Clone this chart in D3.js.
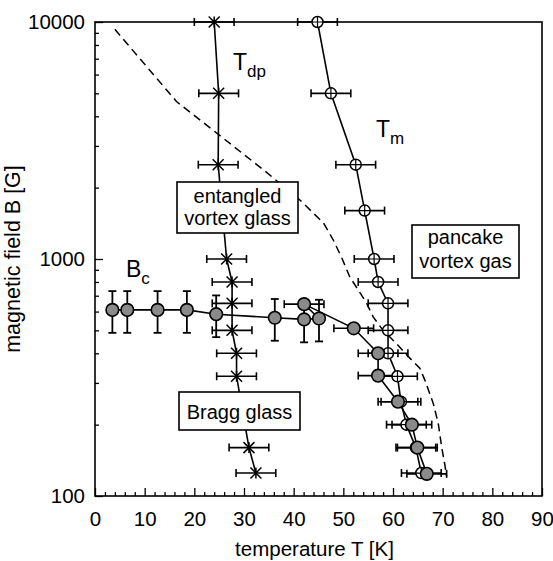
<!DOCTYPE html>
<html><head><meta charset="utf-8">
<script src="https://cdn.jsdelivr.net/npm/d3@7"></script>
<style>
body{margin:0;background:#fff}
svg{display:block;font-family:"Liberation Sans",Arial,Helvetica,sans-serif}
</style>
</head><body>
<svg id="chart" width="553" height="561"></svg>
<script>
// Depinning line T_dp (asterisks, horizontal error bars)
const tdpT    = [24.0, 24.9, 24.8, 26.5, 27.6, 27.6, 27.6, 28.5, 28.5, 31.0, 32.4];
const tdpB    = [10000, 5000, 2500, 1000, 800, 650, 500, 400, 320, 160, 125];
const tdpErrT = [4, 4, 4, 4, 4, 4, 4, 4, 4, 4, 4];

// Melting line T_m (open circles, horizontal error bars)
const tmT    = [44.8, 47.5, 52.5, 54.3, 56.2, 57.0, 59.0, 59.0, 59.0, 60.9, 61.6, 62.7, 64.6, 65.7];
const tmB    = [10000, 5000, 2500, 1600, 1000, 800, 650, 500, 400, 320, 250, 200, 160, 125];
const tmErrT = [4, 4, 4, 4, 4, 4, 4, 4, 4, 4, 4, 4, 4, 4];

// Order-disorder field B_c (filled circles)
const bcT    = [3.5, 6.5, 12.6, 18.5, 24.4, 36.2, 42.1, 45.1, 42.1, 52.1, 57.0, 57.0, 61.0, 63.8, 64.9, 66.8];
const bcB    = [610, 610, 610, 610, 585, 565, 556, 561, 645, 510, 400, 322, 250, 200, 160, 124];
const bcErrB = [122, 122, 122, 122, 117, 113, 111, 112, 0, 0, 0, 0, 0, 0, 0, 0];
const bcErrT = [0, 0, 0, 0, 0, 0, 0, 0, 4, 4, 4, 4, 4, 4, 4, 4];

// Dashed boundary
const dashT = [4.0, 16.4, 33.9, 41.3, 46.0, 48.0, 49.7, 51.3, 53.0, 54.7, 56.0, 58.0, 60.7, 62.8, 65.4, 66.4, 68.1, 69.1, 69.8, 70.5, 70.8];
const dashB = [9310, 4620, 2380, 1770, 1420, 1200, 1010, 840, 740, 650, 570, 500, 440, 393, 346, 309, 246, 203, 161, 133, 121];

// Axis ticks
const xTickLabels = [0, 10, 20, 30, 40, 50, 60, 70, 80, 90];
const yTickLabels = [100, 1000, 10000];

const svg = d3.select("#chart");
const m = {left: 95, right: 11, top: 22, bottom: 65};
const W = 553, H = 561;
const x = d3.scaleLinear().domain([0, 90]).range([m.left, W - m.right]);
const y = d3.scaleLog().domain([100, 10000]).range([H - m.bottom, m.top]);
const x0 = x.range()[0], x1 = x.range()[1], y0 = y.range()[0], y1 = y.range()[1];

const zip = (a, b) => a.map((v, i) => [v, b[i]]);
const line = d3.line().x(d => x(d[0])).y(d => y(d[1]));
const fs = 20.5;

// Axes: minor ticks, then major ticks with labels (ticks point inward)
const xMinor = d3.range(0, 91, 2).filter(v => v % 10 !== 0);
svg.append("g").attr("transform", `translate(0,${y0})`)
  .call(d3.axisBottom(x).tickValues(xMinor).tickSize(-4).tickFormat(""))
  .call(g => g.select(".domain").remove());
svg.append("g").attr("transform", `translate(0,${y0})`)
  .call(d3.axisBottom(x).tickValues(xTickLabels).tickSize(-8).tickPadding(15).tickFormat(d3.format("d")))
  .call(g => g.select(".domain").remove())
  .call(g => g.selectAll("text").attr("font-size", fs).attr("fill", "#000").attr("font-family", null));

const yMinor = y.ticks().filter(v => !yTickLabels.includes(v));
svg.append("g").attr("transform", `translate(${x0},0)`)
  .call(d3.axisLeft(y).tickValues(yMinor).tickSize(-4).tickFormat(""))
  .call(g => g.select(".domain").remove());
svg.append("g").attr("transform", `translate(${x0},0)`)
  .call(d3.axisLeft(y).tickValues(yTickLabels).tickSize(-8).tickPadding(10).tickFormat(d3.format("d")))
  .call(g => g.select(".domain").remove())
  .call(g => g.selectAll("text").attr("font-size", fs).attr("fill", "#000").attr("font-family", null));
svg.selectAll(".tick line").attr("stroke", "#000").attr("stroke-width", 1.3);

// Frame
svg.append("rect").attr("x", x0).attr("y", y1).attr("width", x1 - x0).attr("height", y0 - y1)
  .attr("fill", "none").attr("stroke", "#000").attr("stroke-width", 1.6);

// Axis titles
svg.append("text").attr("x", (x0 + x1) / 2 - 4).attr("y", 556).attr("text-anchor", "middle")
  .attr("font-size", fs).text("temperature T [K]");
svg.append("text").attr("transform", `translate(20,${(y0 + y1) / 2}) rotate(-90)`)
  .attr("text-anchor", "middle").attr("font-size", 21.5).text("magnetic field B [G]");

// Dashed boundary
svg.append("path").datum(zip(dashT, dashB)).attr("d", line)
  .attr("fill", "none").attr("stroke", "#000").attr("stroke-width", 1.5).attr("stroke-dasharray", "8,5");

// Connecting lines
[[tdpT, tdpB], [tmT, tmB], [bcT, bcB]].forEach(([t, b]) => {
  svg.append("path").datum(zip(t, b)).attr("d", line)
    .attr("fill", "none").attr("stroke", "#000").attr("stroke-width", 1.6);
});

// Error bars
const cap = 4;
function hErr(t, b, e) {
  const g = svg.append("g").attr("stroke", "#000").attr("stroke-width", 1.6);
  t.forEach((v, i) => {
    if (!e[i]) return;
    const yy = y(b[i]), xa = x(v - e[i]), xb = x(v + e[i]);
    g.append("line").attr("x1", xa).attr("x2", xb).attr("y1", yy).attr("y2", yy);
    g.append("line").attr("x1", xa).attr("x2", xa).attr("y1", yy - cap).attr("y2", yy + cap);
    g.append("line").attr("x1", xb).attr("x2", xb).attr("y1", yy - cap).attr("y2", yy + cap);
  });
}
function vErr(t, b, e) {
  const g = svg.append("g").attr("stroke", "#000").attr("stroke-width", 1.8);
  t.forEach((v, i) => {
    if (!e[i]) return;
    const xx = x(v), ya = y(b[i] - e[i]), yb = y(b[i] + e[i]);
    g.append("line").attr("x1", xx).attr("x2", xx).attr("y1", ya).attr("y2", yb);
    g.append("line").attr("x1", xx - cap).attr("x2", xx + cap).attr("y1", ya).attr("y2", ya);
    g.append("line").attr("x1", xx - cap).attr("x2", xx + cap).attr("y1", yb).attr("y2", yb);
  });
}
hErr(tdpT, tdpB, tdpErrT);
hErr(tmT, tmB, tmErrT);
hErr(bcT, bcB, bcErrT);
vErr(bcT, bcB, bcErrB);

// Markers: T_dp asterisks
const s = 5.5;
svg.append("g").selectAll("path").data(zip(tdpT, tdpB)).join("path")
  .attr("d", d => { const cx = x(d[0]), cy = y(d[1]);
    return `M${cx - s},${cy - s}L${cx + s},${cy + s}M${cx - s},${cy + s}L${cx + s},${cy - s}M${cx},${cy - s}L${cx},${cy + s}`; })
  .attr("stroke", "#000").attr("stroke-width", 1.5).attr("fill", "none");

// T_m open circles with crosshair
const tmG = svg.append("g").selectAll("g").data(zip(tmT, tmB)).join("g")
  .attr("transform", d => `translate(${x(d[0])},${y(d[1])})`);
tmG.append("circle").attr("r", 5.5).attr("fill", "#fff").attr("stroke", "#000").attr("stroke-width", 1.5);
tmG.append("path").attr("d", "M-5.5,0H5.5M0,-5.5V5.5").attr("stroke", "#000").attr("stroke-width", 1.2);

// B_c filled circles
svg.append("g").selectAll("circle").data(zip(bcT, bcB)).join("circle")
  .attr("cx", d => x(d[0])).attr("cy", d => y(d[1])).attr("r", 6.3)
  .attr("fill", "#8a8a8a").attr("stroke", "#000").attr("stroke-width", 1.6);

// Region labels in boxes
function box(x, y, w, h, lines, base, lh) {
  svg.append("rect").attr("x", x).attr("y", y).attr("width", w).attr("height", h)
    .attr("fill", "#fff").attr("stroke", "#000").attr("stroke-width", 1.6);
  lines.forEach((t, i) => svg.append("text").attr("x", x + w / 2).attr("y", base + i * lh)
    .attr("text-anchor", "middle").attr("font-size", 20).text(t));
}
box(177, 182, 121, 51, ["entangled", "vortex glass"], 203, 22);
box(412, 225, 107, 53, ["pancake", "vortex gas"], 244, 24);
box(179, 392, 121, 38, ["Bragg glass"], 419, 0);

// Curve labels with subscripts
function subLabel(px, py, main, sub) {
  const t = svg.append("text").attr("x", px).attr("y", py).attr("font-size", 23);
  t.append("tspan").text(main);
  t.append("tspan").attr("font-size", 17).attr("dy", 7).text(sub);
}
subLabel(233, 70, "T", "dp");
subLabel(376, 137, "T", "m");
subLabel(126, 277, "B", "c");
</script>
</body></html>
